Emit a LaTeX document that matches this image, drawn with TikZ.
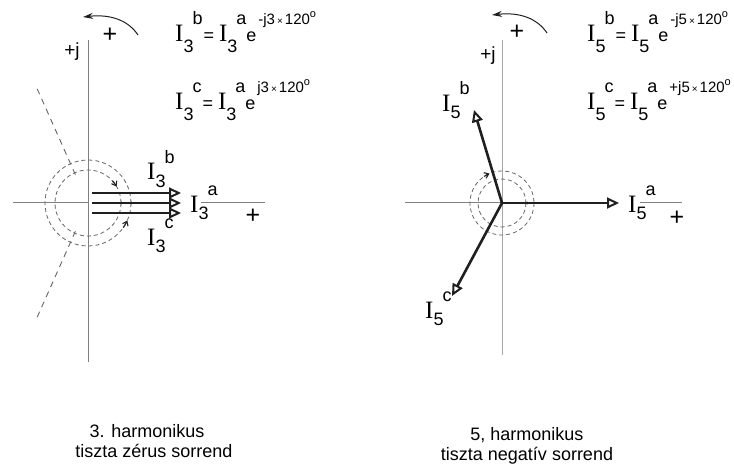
\documentclass[tikz,border=0pt]{standalone}
\usepackage{fontspec}
\setmainfont{Liberation Serif}
\setsansfont{Liberation Sans}
\usetikzlibrary{arrows.meta}

\definecolor{axisgray}{gray}{0.5}
\definecolor{dashgray}{gray}{0.4}
\definecolor{phasorblack}{gray}{0.12}

\newcommand{\Ifnt}{\rmfamily\fontsize{25}{25}\selectfont}
\newcommand{\Sfnt}{\sffamily\fontsize{18}{18}\selectfont}
\newcommand{\Efnt}{\sffamily\fontsize{15}{15}\selectfont}
% fazor: I, also index, felso index
\newcommand{\Iph}[3][7pt]{{\Ifnt I}\raisebox{-#1}{\Sfnt #2}\kern-1pt\raisebox{17pt}{\Sfnt #3}}
\newcommand{\Iexp}[1]{\raisebox{17pt}{\Efnt #1\kern2pt{\fontsize{10}{10}\selectfont ×}\kern2pt120\raisebox{7pt}{\fontsize{11}{11}\selectfont o}}}

\tikzset{
  axisline/.style={axisgray, line width=1pt},
  phasor/.style={phasorblack, line width=2.6pt, -{Triangle[open, length=12pt, width=11pt, line width=2pt]}},
  dashcirc/.style={dashgray, line width=0.8pt, dash pattern=on 4pt off 3pt},
  dashline/.style={dashgray, line width=0.9pt, dash pattern=on 6pt off 5pt},
  rotarrow/.style={phasorblack, line width=1pt, -{Stealth[length=10pt, width=6pt]}},
  tinyarrow/.style={phasorblack, line width=1.1pt, -{Straight Barb[length=4pt, width=6pt]}},
  lbl/.style={anchor=base west, inner sep=0pt},
  captxt/.style={anchor=base, inner sep=0pt, font=\sffamily\fontsize{18}{18}\selectfont},
  sgn/.style={inner sep=0pt, font=\sffamily\fontsize{25}{25}\selectfont},
  jlbl/.style={inner sep=0pt, font=\sffamily\fontsize{19}{19}\selectfont},
  crossdot/.style={circle, fill=phasorblack, inner sep=0pt, minimum size=3pt}
}

\begin{document}
\begin{tikzpicture}[x=1pt, y=-1pt]
    \useasboundingbox (0,0) rectangle (734,468);

    % 3. harmonikus - tengelyek
    \coordinate (O3) at (88,203);
    \draw[axisline] (88,40) -- (88,362);
    \draw[axisline] (13,203) -- (O3);
    \draw[axisline] (201,203) -- (265,203);
    \node[sgn] (p3x) at (253,216) {+};
    \node[jlbl] (j3) at (72,52) {+j};

    % szaggatott korok es vonalak
    \draw[dashcirc] (O3) circle[radius=33];
    \draw[dashcirc] (O3) circle[radius=43];
    \draw[dashline] ([shift={(-114:31)}]O3) -- ([shift={(-114:126)}]O3);
    \draw[dashline] ([shift={(-246:31)}]O3) -- ([shift={(-246:126)}]O3);
    \draw[tinyarrow] ([shift={(-42:33)}]O3) arc (-42:-30:33);
    \draw[tinyarrow] ([shift={(35:43)}]O3) arc (35:24:43);

    % fazorok
    \coordinate (S3b) at (92,193);  \coordinate (A3b) at (181,193);
    \coordinate (S3a) at (92,203);  \coordinate (A3a) at (181,203);
    \coordinate (S3c) at (92,213);  \coordinate (A3c) at (181,213);
    \draw[phasor] (S3b) -- (A3b);
    \draw[phasor] (S3a) -- (A3a);
    \draw[phasor] (S3c) -- (A3c);
    \node[crossdot] (d3i) at (121,203) {};
    \node[crossdot] (d3o) at (131,203) {};

    \node[lbl] (l3b) at (147,180) {\Iph{3}{b}};
    \node[lbl] (l3a) at (190,212) {\Iph{3}{a}};
    \node[lbl] (l3c) at (147,245) {\Iph{3}{c}};

    % forgasirany
    \draw[rotarrow] (138,35) .. controls (128,20) and (110,14) .. (83,17);
    \node[sgn] (p3r) at (110,35) {+};

    % egyenletek
    \node[lbl] (e3b) at (175,42) {\Iph[11pt]{3}{b}\kern1pt{\Sfnt =}\kern5pt\Iph[11pt]{3}{a}{\Sfnt e}\kern2pt\Iexp{-j3}};
    \node[lbl] (e3c) at (175,110) {\Iph[11pt]{3}{c}\kern1pt{\Sfnt =}\kern5pt\Iph[11pt]{3}{a}{\Sfnt e}\kern2pt\Iexp{j3}};

    % 5. harmonikus - tengelyek
    \coordinate (O5) at (502,203);
    \draw[axisline, axisgray!70] (502,40) -- (502,355);
    \draw[axisline] (405,203) -- (O5);
    \draw[axisline] (640,203) -- (682,203);
    \node[sgn] (p5x) at (677,218) {+};
    \node[jlbl] (j5) at (488,56) {+j};

    \draw[dashcirc] (O5) circle[radius=24];
    \draw[dashcirc] (O5) circle[radius=32];
    \draw[tinyarrow] ([shift={(-124:32)}]O5) arc (-124:-113:32);

    % fazorok
    \coordinate (A5a) at (619,203);
    \coordinate (A5b) at (474,110);
    \coordinate (A5c) at (452,296);
    \draw[phasor] (O5) -- (A5a);
    \draw[phasor] (O5) -- (A5b);
    \draw[phasor] (O5) -- (A5c);
    \node[crossdot] (d5i) at (527,203) {};

    \node[lbl] (l5b) at (442,112) {\Iph{5}{b}};
    \node[lbl] (l5a) at (628,212) {\Iph{5}{a}};
    \node[lbl] (l5c) at (425,318) {\Iph{5}{c}};

    % forgasirany
    \draw[rotarrow] (547,33) .. controls (537,18) and (519,12) .. (492,15);
    \node[sgn] (p5r) at (517,32) {+};

    % egyenletek
    \node[lbl] (e5b) at (587,42) {\Iph[11pt]{5}{b}\kern1pt{\Sfnt =}\kern5pt\Iph[11pt]{5}{a}{\Sfnt e}\kern2pt\Iexp{-j5}};
    \node[lbl] (e5c) at (587,110) {\Iph[11pt]{5}{c}\kern1pt{\Sfnt =}\kern5pt\Iph[11pt]{5}{a}{\Sfnt e}\kern2pt\Iexp{+j5}};

    % feliratok
    \node[captxt] (c3a) at (147,437) {3. harmonikus};
    \node[captxt] (c3b) at (154,457) {tiszta zérus sorrend};
    \node[captxt] (c5a) at (527,440) {5, harmonikus};
    \node[captxt] (c5b) at (527,460) {tiszta negatív sorrend};
\end{tikzpicture}
\end{document}
